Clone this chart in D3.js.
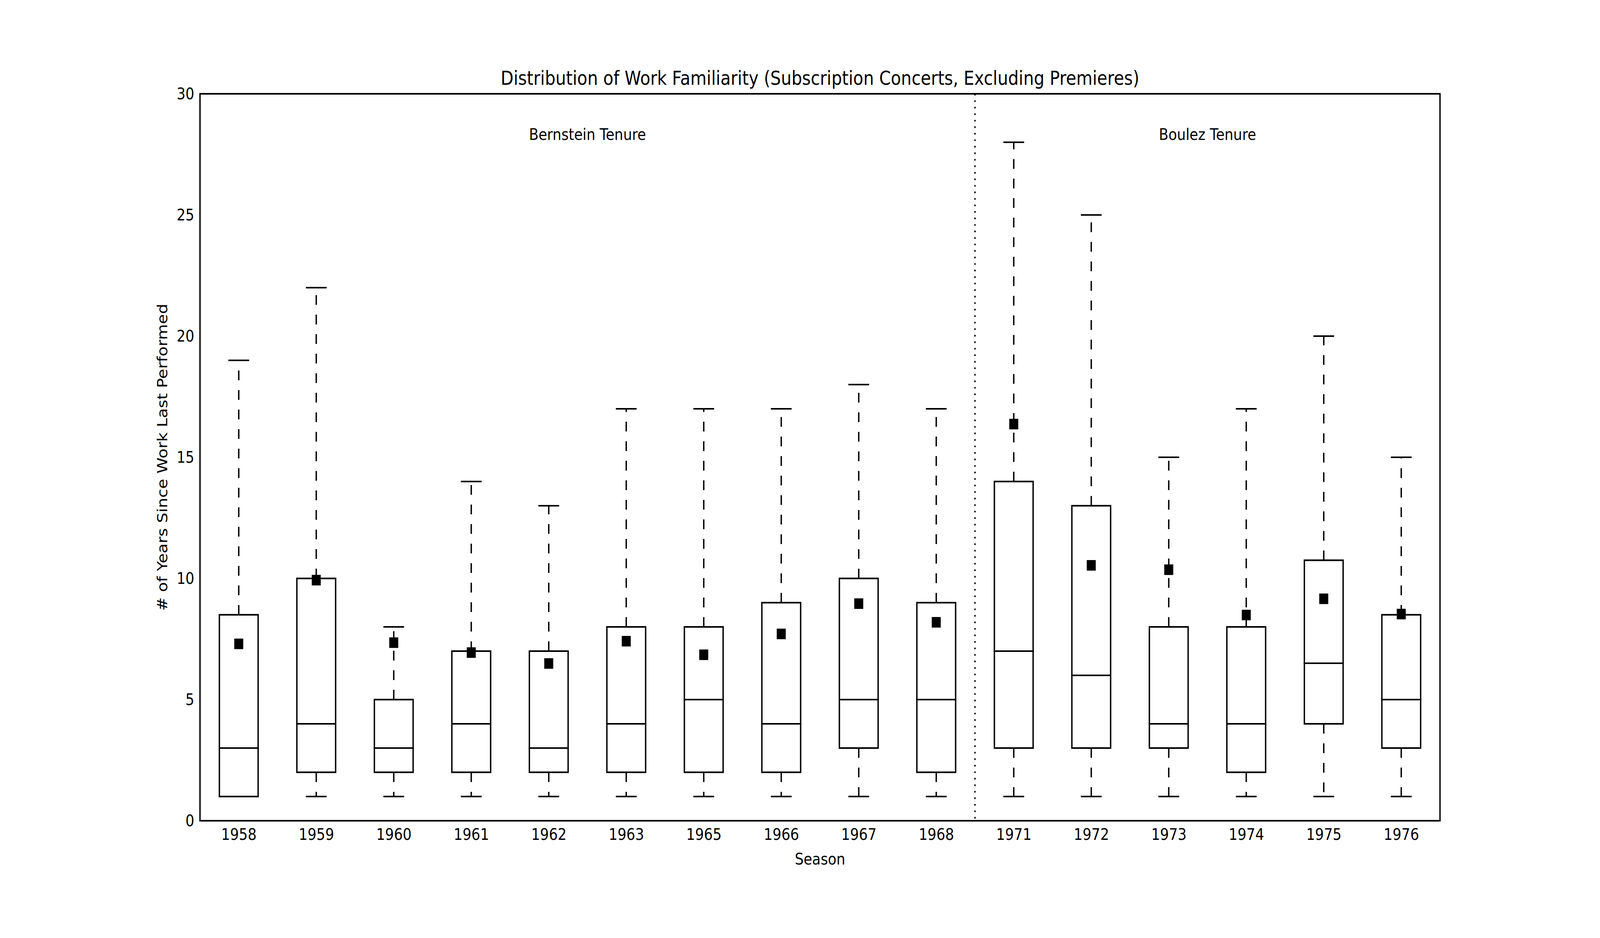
<!DOCTYPE html>
<html>
<head>
<meta charset="utf-8">
<script src="https://cdn.jsdelivr.net/npm/d3@7"></script>
<style>
  html, body { margin: 0; padding: 0; background: #fff; overflow: hidden; }
  svg { display: block; width: 100vw; height: 100vh; font-family: 'DejaVu Sans', sans-serif; }
</style>
</head>
<body>
<svg id="chart"></svg>
<script>
// season labels on the x axis
const seasons = ['1958', '1959', '1960', '1961', '1962', '1963', '1965', '1966',
    '1967', '1968', '1971', '1972', '1973', '1974', '1975', '1976'];
// box plot stats per season (years since work last performed)
const whiskerLow = [1, 1, 1, 1, 1, 1, 1, 1, 1, 1, 1, 1, 1, 1, 1, 1];
const q1 = [1, 2, 2, 2, 2, 2, 2, 2, 3, 2, 3, 3, 3, 2, 4, 3];
const medians = [3, 4, 3, 4, 3, 4, 5, 4, 5, 5, 7, 6, 4, 4, 6.5, 5];
const q3 = [8.5, 10, 5, 7, 7, 8, 8, 9, 10, 9, 14, 13, 8, 8, 10.75, 8.5];
const whiskerHigh = [19, 22, 8, 14, 13, 17, 17, 17, 18, 17, 28, 25, 15, 17, 20, 15];
const means = [7.3, 9.93, 7.35, 6.94, 6.49, 7.41, 6.85, 7.71, 8.96, 8.19,
    16.37, 10.54, 10.36, 8.49, 9.16, 8.53];
const yTicks = [0, 5, 10, 15, 20, 25, 30];
// tenure groups
const tenures = [
    { label: 'Bernstein Tenure', seasons: seasons.slice(0, 10) },
    { label: 'Boulez Tenure', seasons: seasons.slice(10) }
];
const tenureLabelY = 28.1;

// drawn in a 4800x2400 viewBox, stretched to whatever the window is
const W = 4800, H = 2400;
const padLeft = 600, padRight = 4320, padTop = 240, padBottom = 2100;
const lw = 4.17;
const fs = 41.7;

const svg = d3.select('#chart')
    .attr('viewBox', '0 0 ' + W + ' ' + H)
    .attr('preserveAspectRatio', 'none');
svg.append('rect').attr('width', W).attr('height', H).attr('fill', '#fff');

const x = d3.scalePoint().domain(seasons).range([padLeft, padRight]).padding(0.5);
const step = x.step();
const y = d3.scaleLinear().domain([0, 30]).range([padBottom, padTop]);

const boxW = step * 0.5;
const capW = step * 0.25;

const data = seasons.map((s, i) => ({
    season: s, lo: whiskerLow[i], q1: q1[i], med: medians[i],
    q3: q3[i], hi: whiskerHigh[i], mean: means[i]
}));

// axes
svg.append('g')
    .attr('transform', 'translate(' + padLeft + ',0)')
    .call(d3.axisLeft(y).tickValues(yTicks).tickSize(0).tickPadding(17))
    .call(g => g.select('.domain').remove())
    .selectAll('text')
    .attr('font-size', fs)
    .attr('font-family', 'DejaVu Sans')
    .attr('fill', '#000');

svg.append('g')
    .attr('transform', 'translate(0,' + padBottom + ')')
    .call(d3.axisBottom(x).tickSize(0).tickPadding(19.5))
    .call(g => g.select('.domain').remove())
    .selectAll('text')
    .attr('font-size', fs)
    .attr('font-family', 'DejaVu Sans')
    .attr('fill', '#000');

// divider between tenures
const lastBernstein = tenures[0].seasons[tenures[0].seasons.length - 1];
const divX = (x(lastBernstein) + x(tenures[1].seasons[0])) / 2;
svg.append('line')
    .attr('x1', divX).attr('x2', divX)
    .attr('y1', padTop).attr('y2', padBottom)
    .attr('stroke', '#000')
    .attr('stroke-width', lw)
    .attr('stroke-dasharray', '4.17,12.5');

const g = svg.append('g').selectAll('g').data(data).join('g');

// whiskers
g.append('line')
    .attr('x1', d => x(d.season)).attr('x2', d => x(d.season))
    .attr('y1', d => y(d.q3)).attr('y2', d => y(d.hi))
    .attr('stroke', '#000').attr('stroke-width', lw)
    .attr('stroke-dasharray', '25,25');
g.append('line')
    .attr('x1', d => x(d.season)).attr('x2', d => x(d.season))
    .attr('y1', d => y(d.q1)).attr('y2', d => y(d.lo))
    .attr('stroke', '#000').attr('stroke-width', lw)
    .attr('stroke-dasharray', '25,25');

// caps
g.append('line')
    .attr('x1', d => x(d.season) - capW / 2).attr('x2', d => x(d.season) + capW / 2)
    .attr('y1', d => y(d.hi)).attr('y2', d => y(d.hi))
    .attr('stroke', '#000').attr('stroke-width', lw)
    .attr('stroke-linecap', 'square');
g.append('line')
    .attr('x1', d => x(d.season) - capW / 2).attr('x2', d => x(d.season) + capW / 2)
    .attr('y1', d => y(d.lo)).attr('y2', d => y(d.lo))
    .attr('stroke', '#000').attr('stroke-width', lw)
    .attr('stroke-linecap', 'square');

// boxes
g.append('rect')
    .attr('x', d => x(d.season) - boxW / 2)
    .attr('y', d => y(d.q3))
    .attr('width', boxW)
    .attr('height', d => y(d.q1) - y(d.q3))
    .attr('fill', 'none')
    .attr('stroke', '#000').attr('stroke-width', lw);

// medians
g.append('line')
    .attr('x1', d => x(d.season) - boxW / 2).attr('x2', d => x(d.season) + boxW / 2)
    .attr('y1', d => y(d.med)).attr('y2', d => y(d.med))
    .attr('stroke', '#000').attr('stroke-width', lw)
    .attr('stroke-linecap', 'square');

// means
const ms = 27;
g.append('rect')
    .attr('x', d => x(d.season) - ms / 2)
    .attr('y', d => y(d.mean) - ms / 2)
    .attr('width', ms).attr('height', ms)
    .attr('fill', '#000');

// frame
svg.append('rect')
    .attr('x', padLeft).attr('y', padTop)
    .attr('width', padRight - padLeft).attr('height', padBottom - padTop)
    .attr('fill', 'none')
    .attr('stroke', '#000').attr('stroke-width', lw);

// tenure labels
svg.append('g').selectAll('text')
    .data(tenures)
    .join('text')
    .attr('x', d => d3.mean(d.seasons, s => x(s)))
    .attr('y', y(tenureLabelY))
    .attr('text-anchor', 'middle')
    .attr('font-size', fs)
    .text(d => d.label);

// title and axis labels
svg.append('text')
    .attr('x', (padLeft + padRight) / 2)
    .attr('y', 217)
    .attr('text-anchor', 'middle')
    .attr('font-size', 50)
    .text('Distribution of Work Familiarity (Subscription Concerts, Excluding Premieres)');

svg.append('text')
    .attr('x', (padLeft + padRight) / 2)
    .attr('y', 2212)
    .attr('text-anchor', 'middle')
    .attr('font-size', fs)
    .text('Season');

svg.append('text')
    .attr('transform', 'translate(502,' + (padTop + padBottom) / 2 + ') rotate(-90)')
    .attr('text-anchor', 'middle')
    .attr('font-size', fs)
    .text('# of Years Since Work Last Performed');
</script>
</body>
</html>
